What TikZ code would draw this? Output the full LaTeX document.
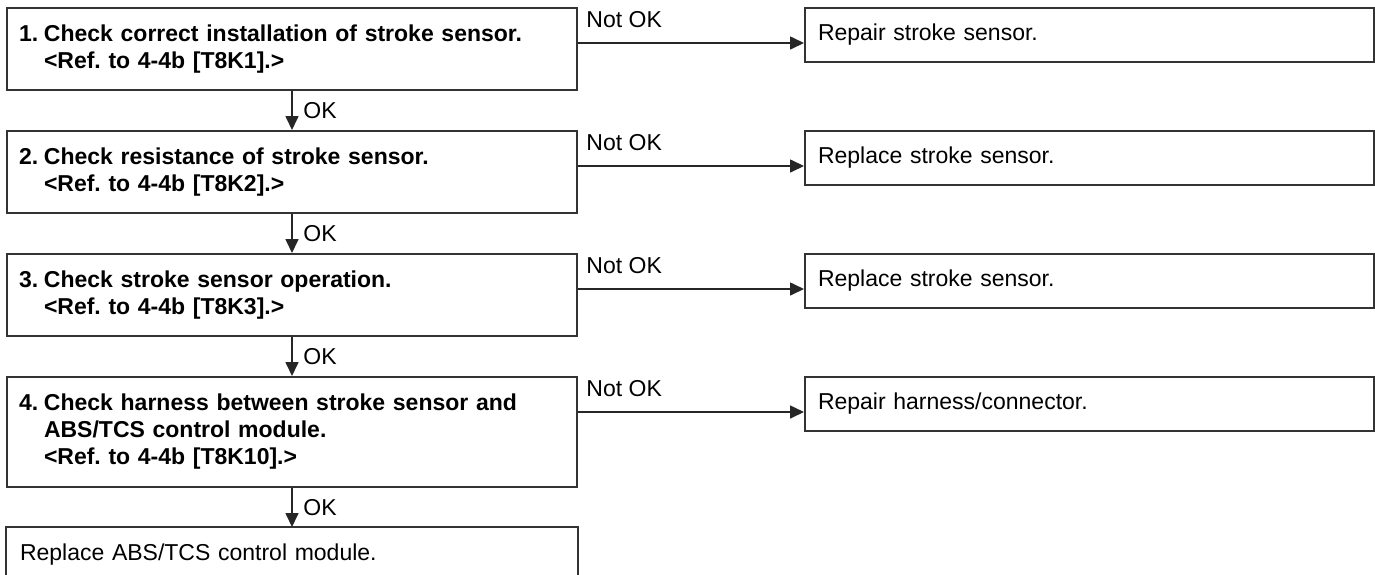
\documentclass[tikz,border=0pt]{standalone}
\usepackage{fontspec}
\setmainfont{Liberation Sans}
\usetikzlibrary{positioning,arrows.meta}
\frenchspacing

\begin{document}
\begin{tikzpicture}[x=0.5pt, y=-0.5pt, node distance={19.5pt},
	check/.style = {draw=black!80, line width=1pt, text width=273pt, inner xsep=6pt, minimum height=41pt, align=left, font=\bfseries\fontsize{11.5}{13.5}\selectfont},
	fix/.style = {draw=black!80, line width=1pt, text width=271.5pt, inner xsep=6.5pt, minimum height=27pt, align=left, font=\fontsize{11.5}{13.5}\selectfont},
	arr/.style = {draw=black!85, line width=0.8pt, -{Triangle[length=7pt, width=6.5pt]}},
	lbl/.style = {font=\fontsize{11.5}{13.5}\selectfont}]
	\useasboundingbox (0,0) rectangle (1375,574);
	\node[check, anchor=north west] (1) at (6,7) {\makebox[12.5pt][l]{1.}Check correct installation of stroke sensor.\\\hspace*{12.5pt}<Ref. to 4-4b [T8K1].>};
	\node[check] (2) [below=of 1] {\makebox[12.5pt][l]{2.}Check resistance of stroke sensor.\\\hspace*{12.5pt}<Ref. to 4-4b [T8K2].>};
	\node[check] (3) [below=of 2] {\makebox[12.5pt][l]{3.}Check stroke sensor operation.\\\hspace*{12.5pt}<Ref. to 4-4b [T8K3].>};
	\node[check, minimum height=55pt] (4) [below=of 3] {\makebox[12.5pt][l]{4.}Check harness between stroke sensor and\\\hspace*{12.5pt}ABS/TCS control module.\\\hspace*{12.5pt}<Ref. to 4-4b [T8K10].>};
	\node[fix, draw=none, text width=272pt] (5) [below=of 4] {Replace ABS/TCS control module.};
	\node[fix] (r1) [right=113pt of 1.north east, anchor=north west] {Repair stroke sensor.};
	\node[fix] (r2) [right=113pt of 2.north east, anchor=north west] {Replace stroke sensor.};
	\node[fix] (r3) [right=113pt of 3.north east, anchor=north west] {Replace stroke sensor.};
	\node[fix] (r4) [right=113pt of 4.north east, anchor=north west] {Repair harness/connector.};
	\draw[draw=black!80, line width=1pt] (5.south west) -- (5.north west) -- (5.north east) -- (5.south east);
	\draw[arr] (1) -- node[lbl, right, xshift=2pt] {OK} (2);
	\draw[arr] (2) -- node[lbl, right, xshift=2pt] {OK} (3);
	\draw[arr] (3) -- node[lbl, right, xshift=2pt] {OK} (4);
	\draw[arr] (4) -- node[lbl, right, xshift=2pt] {OK} (5);
	\draw[arr] ([yshift=-18pt]1.north east) -- node[lbl, pos=0, anchor=base west, xshift=0.5pt, yshift=8pt] {Not OK} ([yshift=-18pt]r1.north west);
	\draw[arr] ([yshift=-18pt]2.north east) -- node[lbl, pos=0, anchor=base west, xshift=0.5pt, yshift=8pt] {Not OK} ([yshift=-18pt]r2.north west);
	\draw[arr] ([yshift=-18pt]3.north east) -- node[lbl, pos=0, anchor=base west, xshift=0.5pt, yshift=8pt] {Not OK} ([yshift=-18pt]r3.north west);
	\draw[arr] ([yshift=-18pt]4.north east) -- node[lbl, pos=0, anchor=base west, xshift=0.5pt, yshift=8pt] {Not OK} ([yshift=-18pt]r4.north west);
\end{tikzpicture}
\end{document}
